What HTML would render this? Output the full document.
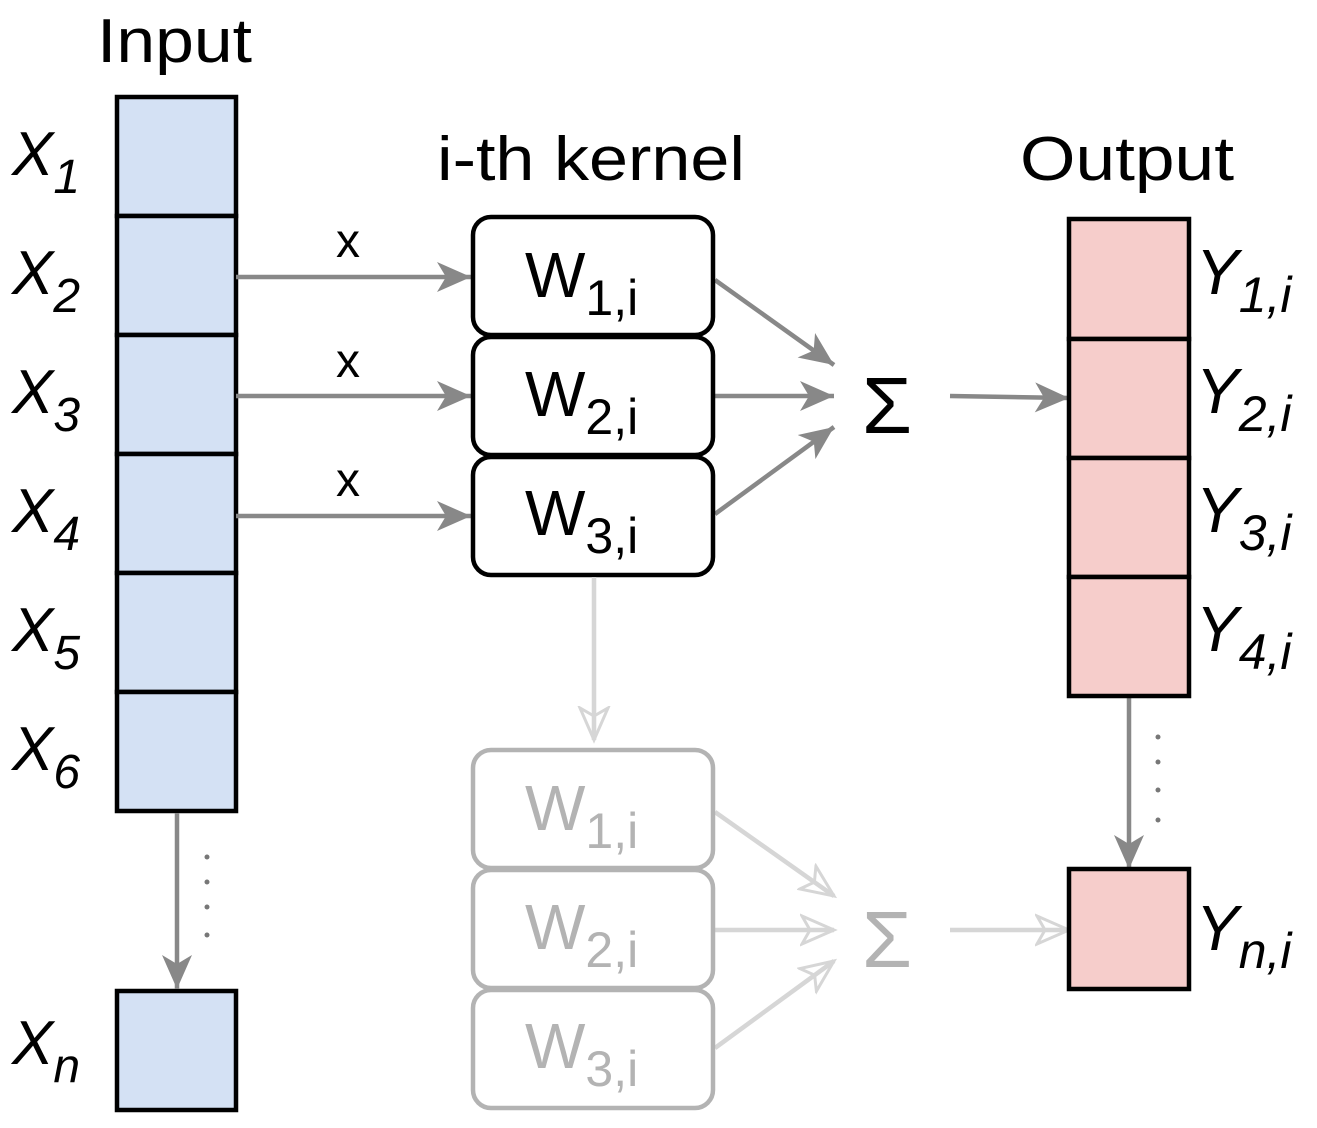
<!DOCTYPE html>
<html><head><meta charset="utf-8"><style>
html,body{margin:0;padding:0;background:#fff;}
svg{display:block;font-family:"Liberation Sans",Arial,sans-serif;}
</style></head><body>
<svg width="1317" height="1128" viewBox="0 0 1317 1128" xmlns="http://www.w3.org/2000/svg">
<defs>
<marker id="a" markerUnits="userSpaceOnUse" markerWidth="44" markerHeight="44" refX="34" refY="17" orient="auto" viewBox="0 0 44 34">
<path d="M34,17 L0,2 L9,17 L0,32 Z" fill="#888"/></marker>
<marker id="b" markerUnits="userSpaceOnUse" markerWidth="44" markerHeight="44" refX="34" refY="17" orient="auto" viewBox="0 0 44 34">
<path d="M34,17 L2,3 L10,17 L2,31 Z" fill="none" stroke="#d6d6d6" stroke-width="3"/></marker>
</defs>

<!-- Input -->
<text x="97" y="62" font-size="62" textLength="155" lengthAdjust="spacingAndGlyphs">Input</text>
<g fill="#d4e1f4" stroke="#000" stroke-width="4.5">
<rect x="117" y="97" width="119" height="119"/>
<rect x="117" y="216" width="119" height="119"/>
<rect x="117" y="335" width="119" height="119"/>
<rect x="117" y="454" width="119" height="119"/>
<rect x="117" y="573" width="119" height="119"/>
<rect x="117" y="692" width="119" height="119"/>
<rect x="117" y="991" width="119" height="119"/>
</g>
<g font-size="62" font-style="italic">
<text x="12" y="175">X<tspan font-size="48" dy="18">1</tspan></text>
<text x="12" y="294">X<tspan font-size="48" dy="18">2</tspan></text>
<text x="12" y="413">X<tspan font-size="48" dy="18">3</tspan></text>
<text x="12" y="532">X<tspan font-size="48" dy="18">4</tspan></text>
<text x="12" y="651">X<tspan font-size="48" dy="18">5</tspan></text>
<text x="12" y="770">X<tspan font-size="48" dy="18">6</tspan></text>
<text x="12" y="1064">X<tspan font-size="48" dy="18">n</tspan></text>
</g>
<line x1="177" y1="813" x2="177" y2="989" stroke="#888" stroke-width="4.5" marker-end="url(#a)"/>
<g fill="#777"><circle cx="207" cy="857" r="2.5"/><circle cx="207" cy="882" r="2.5"/><circle cx="207" cy="907" r="2.5"/><circle cx="207" cy="935" r="2.5"/></g>

<!-- kernel -->
<text x="437" y="180" font-size="62" textLength="308" lengthAdjust="spacingAndGlyphs">i-th kernel</text>
<g stroke="#888" stroke-width="4.5" fill="none" marker-end="url(#a)">
<line x1="236" y1="277" x2="471" y2="277"/>
<line x1="236" y1="396" x2="471" y2="396"/>
<line x1="236" y1="516" x2="471" y2="516"/>
<line x1="715" y1="280" x2="834" y2="365"/>
<line x1="715" y1="396" x2="834" y2="396"/>
<line x1="715" y1="514" x2="834" y2="427"/>
<line x1="950" y1="396" x2="1069" y2="398"/>
</g>
<g font-size="48"><text x="336" y="257">x</text><text x="336" y="377">x</text><text x="336" y="496">x</text></g>
<g fill="#fff" stroke="#000" stroke-width="4.5">
<rect x="473" y="217" width="240" height="118" rx="18"/>
<rect x="473" y="337" width="240" height="118" rx="18"/>
<rect x="473" y="457" width="240" height="118" rx="18"/>
</g>
<g font-size="64">
<text x="525" y="297">W<tspan font-size="50" dy="18">1,i</tspan></text>
<text x="525" y="416">W<tspan font-size="50" dy="18">2,i</tspan></text>
<text x="525" y="535">W<tspan font-size="50" dy="18">3,i</tspan></text>
</g>
<text x="862" y="433" font-size="80" textLength="50" lengthAdjust="spacingAndGlyphs">Σ</text>

<!-- faded -->
<g stroke="#d6d6d6" stroke-width="4.5" fill="none" marker-end="url(#b)">
<line x1="594" y1="577" x2="594" y2="740"/>
<line x1="715" y1="812" x2="834" y2="896"/>
<line x1="715" y1="930" x2="834" y2="930"/>
<line x1="715" y1="1048" x2="834" y2="961"/>
<line x1="950" y1="930" x2="1069" y2="930"/>
</g>
<g fill="#fff" stroke="#b3b3b3" stroke-width="4.5">
<rect x="473" y="750" width="240" height="118" rx="18"/>
<rect x="473" y="870" width="240" height="118" rx="18"/>
<rect x="473" y="990" width="240" height="118" rx="18"/>
</g>
<g font-size="64" fill="#b3b3b3">
<text x="525" y="830">W<tspan font-size="50" dy="18">1,i</tspan></text>
<text x="525" y="949">W<tspan font-size="50" dy="18">2,i</tspan></text>
<text x="525" y="1068">W<tspan font-size="50" dy="18">3,i</tspan></text>
</g>
<text x="862" y="967" font-size="80" fill="#b3b3b3" textLength="50" lengthAdjust="spacingAndGlyphs">Σ</text>

<!-- Output -->
<text x="1020" y="180" font-size="62" textLength="214" lengthAdjust="spacingAndGlyphs">Output</text>
<line x1="1129" y1="698" x2="1129" y2="869" stroke="#888" stroke-width="4.5" marker-end="url(#a)"/>
<g fill="#f6cdcb" stroke="#000" stroke-width="4.5">
<rect x="1069" y="219" width="120" height="120"/>
<rect x="1069" y="339" width="120" height="119"/>
<rect x="1069" y="458" width="120" height="119"/>
<rect x="1069" y="577" width="120" height="119"/>
<rect x="1069" y="869" width="120" height="120"/>
</g>
<g fill="#777"><circle cx="1158" cy="737" r="2.5"/><circle cx="1158" cy="762" r="2.5"/><circle cx="1158" cy="790" r="2.5"/><circle cx="1158" cy="820" r="2.5"/></g>
<g font-size="64" font-style="italic">
<text x="1196" y="294">Y<tspan font-size="50" dy="18">1,i</tspan></text>
<text x="1196" y="413">Y<tspan font-size="50" dy="18">2,i</tspan></text>
<text x="1196" y="532">Y<tspan font-size="50" dy="18">3,i</tspan></text>
<text x="1196" y="651">Y<tspan font-size="50" dy="18">4,i</tspan></text>
<text x="1196" y="950">Y<tspan font-size="50" dy="18">n,i</tspan></text>
</g>
</svg>
</body></html>
